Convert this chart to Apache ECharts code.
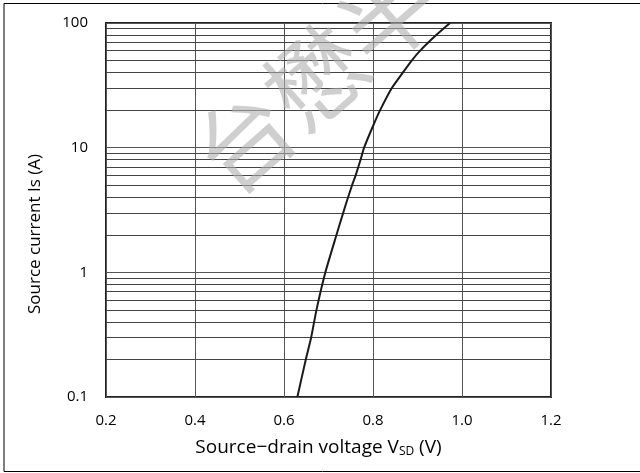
<!DOCTYPE html>
<html>
<head>
<meta charset="utf-8">
<script src="https://cdn.jsdelivr.net/npm/echarts@6/dist/echarts.min.js"></script>
<style>
  html, body { margin: 0; padding: 0; background: #fff; }
  #chart { width: 640px; height: 473px; }
</style>
</head>
<body>
<div id="chart"></div>
<script>
// Is vs VSD curve
var vsd = [0.630, 0.649, 0.661, 0.673, 0.693, 0.718, 0.733, 0.744, 0.753, 0.761, 0.772, 0.780, 0.801, 0.816, 0.842, 0.867, 0.887, 0.906, 0.942, 0.973];
var isd = [0.1, 0.2, 0.3, 0.5, 1, 2, 3, 4, 5, 6, 8, 10, 15.2, 20, 30, 40, 50, 60, 80, 100];
// minor log grid lines (2..9 of each decade)
var minorLines = [0.2, 0.3, 0.4, 0.5, 0.6, 0.7, 0.8, 0.9, 2, 3, 4, 5, 6, 7, 8, 9, 20, 30, 40, 50, 60, 70, 80, 90];
var xTicks = ['0.2', '0.4', '0.6', '0.8', '1.0', '1.2'];

var font = '"Open Sans", "Noto Sans", sans-serif';
var myChart = echarts.init(document.getElementById('chart'));

var points = [];
for (var i = 0; i < vsd.length; i++) {
    points.push([vsd[i], isd[i]]);
}

var option = {
    backgroundColor: '#fff',
    animation: false,
    graphic: [
        {
            type: 'rect',
            shape: { x: 4, y: 3.5, width: 700, height: 468 },
            style: { fill: 'none', stroke: '#000', lineWidth: 1 },
            z: 0
        },
        {
            type: 'text',
            x: 388, y: 14,
            rotation: 0.72,
            style: {
                text: '台懋半导体',
                font: '96px "Noto Sans CJK SC"',
                fill: 'rgba(175,175,175,0.6)',
                textAlign: 'center',
                textVerticalAlign: 'middle'
            },
            z: 100,
            silent: true
        }
    ],
    grid: {
        left: 106, right: 89, top: 23, bottom: 76,
        show: true,
        borderColor: '#222',
        borderWidth: 2
    },
    xAxis: {
        type: 'value',
        min: 0.2, max: 1.2, interval: 0.2,
        name: '{n|Source\u2212drain voltage V}{s|SD}{n| (V)}',
        nameLocation: 'middle',
        nameGap: 40,
        nameTextStyle: {
            padding: [0, 20, 0, 0],
            rich: {
                n: { fontSize: 19, fontFamily: font, color: '#000' },
                s: { fontSize: 12, fontFamily: font, color: '#000', verticalAlign: 'bottom', padding: [9, 0, 0, 0] }
            }
        },
        axisLine: { show: false },
        axisTick: { show: false },
        axisLabel: {
            margin: 16,
            fontSize: 15, fontFamily: font, color: '#000',
            formatter: function (v) {
                var idx = Math.round((v - 0.2) / 0.2);
                return xTicks[idx] || v.toFixed(1);
            }
        },
        splitLine: { show: true, lineStyle: { color: '#555', width: 1 } }
    },
    yAxis: {
        type: 'log',
        logBase: 10,
        min: 0.1, max: 100,
        name: 'Source current Is (A)',
        nameLocation: 'middle',
        nameGap: 62,
        nameTextStyle: { fontSize: 17, fontFamily: font, color: '#000', padding: [0, 48, 0, 0] },
        axisLine: { show: false },
        axisTick: { show: false },
        axisLabel: {
            margin: 18,
            fontSize: 15, fontFamily: font, color: '#000',
            formatter: function (v) { return String(+v.toPrecision(3)); }
        },
        splitLine: { show: true, lineStyle: { color: '#555', width: 1 } }
    },
    series: [
        {
            type: 'line',
            data: points,
            showSymbol: false,
            smooth: 0.2,
            lineStyle: { color: '#1a1a1a', width: 2 },
            z: 5,
            markLine: {
                silent: true,
                symbol: ['none', 'none'],
                label: { show: false },
                lineStyle: { color: '#444', width: 1, type: 'solid' },
                data: minorLines.map(function (v) { return { yAxis: v }; }),
                z: 1
            }
        }
    ]
};
myChart.setOption(option);
</script>
</body>
</html>
